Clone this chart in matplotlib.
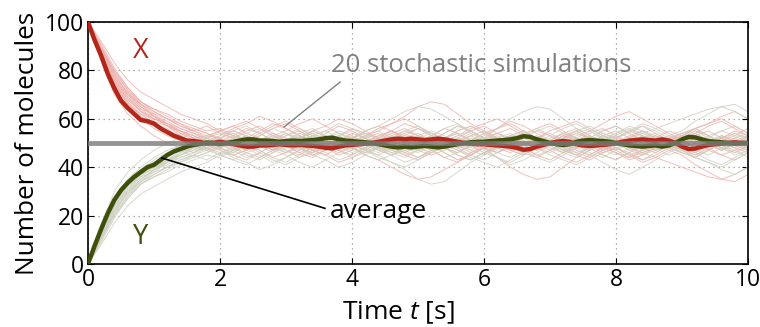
import numpy as np
import matplotlib
matplotlib.use("Agg")
import matplotlib.pyplot as plt

plt.rcParams['font.family'] = ['Open Sans', 'DejaVu Sans']
plt.rcParams['mathtext.fontset'] = 'custom'
plt.rcParams['mathtext.it'] = 'Open Sans:italic'
plt.rcParams['mathtext.rm'] = 'Open Sans'

# X molecules in each of the 20 runs, sampled every 0.2 s from t=0 to t=10
x_runs = [
    [100, 88,75,68,63,60,57,55,53,50,52, 55,53,50,47,49,52,54,51,48,50, 53,56,58,61,65,67,66,62,58,55, 52,50,47,49,51,54,52,49,46,48, 50,53,51,48,50,52,49,47,50,52],
    [100, 86,74,66,62,58,56,52,50,48,46, 45,47,50,48,51,49,47,45,48,50, 52,50,47,45,43,46,49,51,53,50, 48,46,49,52,50,47,45,43,46,48, 45,42,44,47,45,41,38,35,34,37],
    [100, 89,78,70,64,60,58,55,52,53,55, 57,54,52,50,53,55,52,49,51,54, 52,48,46,48,50,47,44,42,45,48, 44,40,37,35,36,40,44,47,50,52, 55,53,50,52,54,51,49,52,55,53],
    [100, 87,76,69,63,61,59,56,54,52,49, 51,53,50,47,49,52,55,53,50,48, 45,43,40,37,35,36,39,42,46,49, 51,53,55,52,50,48,51,54,56,53, 50,47,49,51,48,46,49,52,50,48],
    [100, 90,80,72,67,64,62,59,57,55,56, 53,51,54,57,59,56,53,51,49,52, 55,57,55,52,50,48,51,53,56,58, 60,57,54,52,55,57,59,56,53,51, 48,46,44,42,40,38,36,35,37,40],
    [100, 85,73,65,60,56,53,51,49,47,50, 52,55,57,54,51,48,46,48,51,53, 50,47,49,52,54,51,48,50,53,55, 52,49,46,44,47,50,52,55,58,61, 63,60,57,54,51,48,50,53,51,49],
    [100, 88,77,71,66,62,58,54,51,49,47, 45,43,46,49,51,48,45,47,50,52, 54,51,48,46,49,52,50,47,45,48, 51,53,50,47,49,52,54,52,49,47, 44,46,49,51,54,56,53,50,48,51],
    [100, 92,83,76,71,68,65,62,60,58,55, 57,59,56,53,55,58,60,57,54,52, 50,53,55,52,49,51,54,57,55,52, 50,47,45,48,51,49,46,44,47,50, 53,55,52,49,51,54,57,59,56,53],
    [100, 84,70,62,57,53,50,48,46,49,51, 48,46,44,47,50,53,51,48,46,49, 52,54,51,48,50,53,56,54,51,48, 46,49,52,50,47,44,42,45,48,51, 49,46,48,51,53,50,47,45,47,50],
    [100, 87,75,67,61,58,55,53,56,54,51, 49,52,55,58,56,53,50,48,45,47, 50,52,49,46,44,47,50,48,51,54, 56,59,57,54,51,48,50,53,51,48, 46,43,45,48,50,53,55,52,49,47],
    [100, 89,79,70,65,61,57,54,52,50,53, 56,58,61,59,56,53,51,54,57,55, 52,49,47,50,53,51,48,45,43,46, 49,52,54,51,48,46,49,52,55,57, 54,51,48,50,53,56,58,60,57,54],
    [100, 86,76,68,63,59,57,55,53,51,48, 46,49,47,44,46,49,52,50,47,45, 48,51,54,56,53,50,48,51,49,46, 48,51,53,56,58,55,52,50,47,49, 52,55,53,50,47,45,48,51,53,56],
    [100, 88,78,71,65,61,58,56,54,51,49, 50,48,51,54,52,49,47,45,42,44, 47,50,53,51,48,46,49,52,55,57, 54,52,49,47,50,53,51,48,45,43, 46,49,47,50,52,55,53,50,48,46],
    [100, 91,81,73,67,63,60,57,55,53,52, 54,51,49,47,50,52,55,57,60,58, 55,52,50,53,56,54,51,49,46,48, 50,47,49,52,54,51,48,50,53,55, 52,50,47,49,52,54,51,49,46,49],
    [100, 85,74,67,62,60,58,55,52,50,51, 53,50,48,51,54,52,49,51,53,50, 47,45,48,50,52,49,46,43,45,48, 51,49,52,55,53,50,47,45,48,46, 43,45,48,51,49,52,50,47,50,53],
    [100, 88,77,69,64,62,60,57,55,57,54, 52,50,53,56,58,55,52,49,47,50, 53,55,58,60,57,54,52,55,57,54, 51,48,46,49,51,54,56,53,50,52, 55,57,54,51,53,56,58,61,63,60],
    [100, 87,76,70,66,63,60,58,55,52,50, 47,49,52,50,47,44,46,49,51,48, 46,48,51,49,47,45,47,50,48,51, 53,50,48,45,43,46,49,47,50,52, 50,48,46,49,52,50,48,45,43,46],
    [100, 90,79,72,66,61,57,53,50,52,55, 53,56,54,51,49,46,48,51,53,56, 54,52,55,58,56,53,51,48,50,53, 56,58,55,52,50,47,45,48,51,53, 50,48,51,48,46,44,47,50,52,49],
    [100, 86,75,66,61,57,54,51,49,51,48, 50,53,51,48,46,49,47,50,52,49, 47,50,52,55,53,50,48,46,49,51, 54,56,53,51,49,52,55,52,49,46, 44,47,50,53,51,48,50,52,49,51],
    [100, 89,80,73,67,64,61,58,56,54,52, 49,47,50,52,49,46,44,47,49,52, 50,53,55,53,51,49,52,54,51,48, 46,49,51,48,50,53,51,49,52,50, 47,49,52,55,53,51,49,52,54,52],
]
n_total = 100  # X + Y is conserved, so each Y run is the mirror of its X run

# averages over the 20 runs, every 0.1 s
avg_x = [100, 92.5, 86, 78.5, 72.5, 67.5, 64.5, 62, 59.5, 59,
         58, 56, 54.5, 53, 52, 51, 50.8, 50.4, 49.8, 50,
         50.5, 50, 49.5, 49, 48.5, 48.5, 49, 49, 49.2, 49.5,
         49.2, 49, 49.2, 49, 48.8, 48.5, 48, 47.8, 48.5, 49,
         49.2, 49.5, 49.7, 50, 50.5, 51, 51.5, 51.8, 51.5, 51.8,
         51.5, 51.2, 51.5, 51.8, 51.5, 51, 50.5, 50, 49.7, 49.5,
         49.5, 49.2, 49, 48.8, 48.5, 48, 47.2, 47.5, 48.5, 49.2,
         50, 50.5, 50.8, 50.5, 49.5, 49, 48.8, 49, 49.2, 49.5,
         50, 50.5, 51, 51.2, 51.5, 51.2, 51, 51.5, 51, 50,
         48.5, 47.5, 47.7, 48.5, 49.2, 49.5, 49.7, 50, 50.3, 50,
         50]
avg_y = [0, 7.5, 14.5, 21, 26.5, 30.5, 33.5, 36, 38, 40,
         41, 43, 45, 46.5, 47.5, 48.5, 49.2, 49.6, 50.2, 50,
         49.5, 50, 50.5, 51, 51.5, 51.5, 51, 51, 50.8, 50.5,
         50.8, 51, 50.8, 51, 51.2, 51.5, 52, 52.2, 51.5, 51,
         50.8, 50.5, 50.3, 50, 49.5, 49, 48.5, 48.2, 48.5, 48.2,
         48.5, 48.8, 48.5, 48.2, 48.5, 49, 49.5, 50, 50.3, 50.5,
         50.5, 50.8, 51, 51.2, 51.5, 52, 52.8, 52.5, 51.5, 50.8,
         50, 49.5, 49.2, 49.5, 50.5, 51, 51.2, 51, 50.8, 50.5,
         50, 49.5, 49, 48.8, 48.5, 48.8, 49, 48.5, 49, 50,
         51.5, 52.5, 52.3, 51.5, 50.8, 50.5, 50.3, 50, 49.7, 50,
         50]

steady_state = 50
x_ticks = [0, 2, 4, 6, 8, 10]
y_ticks = [0, 20, 40, 60, 80, 100]

red = '#b3261a'
green = '#3e4f0b'

fig = plt.figure(figsize=(7.6, 3.27), dpi=100)
ax = fig.add_axes([0.1158, 0.1927, 0.8684, 0.74])

for run in x_runs:
    tt = np.linspace(0, 10, len(run))
    ax.plot(tt, run, color='#eeb0ab', lw=0.7, alpha=0.8, zorder=2)
for run in x_runs:
    tt = np.linspace(0, 10, len(run))
    ax.plot(tt, n_total - np.array(run), color='#cdcfbf', lw=0.7, alpha=0.8, zorder=2)

ta = np.linspace(0, 10, len(avg_x))
ax.plot(ta, avg_x, color=red, lw=3.2, zorder=4)
ax.plot(ta, avg_y, color=green, lw=3.2, zorder=4)
ax.axhline(steady_state, color='#7a7a7a', lw=3.5, alpha=0.8, zorder=5)

ax.set_xlim(0, 10)
ax.set_ylim(0, 100)
ax.set_xticks(x_ticks)
ax.set_yticks(y_ticks)
ax.tick_params(direction='in', length=4, top=True, right=True, labelsize=16.5, pad=3)
ax.grid(True, linestyle=(0, (1, 3)), color='#999999', lw=0.9)
for s in ax.spines.values():
    s.set_linewidth(1.2)

ax.set_xlabel('Time $t$ [s]', fontsize=19)
ax.xaxis.set_label_coords(0.47, -0.145)
ax.set_ylabel('Number of molecules', fontsize=18.8, labelpad=3)

ax.text(0.8, 88, 'X', color=red, fontsize=19.5, ha='center', va='center')
ax.text(0.8, 11, 'Y', color=green, fontsize=19.5, ha='center', va='center')
ax.text(5.95, 82, '20 stochastic simulations', color='#808080', fontsize=18.5,
        ha='center', va='center')
ax.plot([3.82, 2.97], [75.2, 56.6], color='#808080', lw=1.0, zorder=6)
ax.text(3.67, 21.5, 'average', color='black', fontsize=19, ha='left', va='center')
ax.plot([3.59, 1.12], [23, 43.8], color='black', lw=1.2, zorder=6)

fig.savefig('out.png', dpi=100)
